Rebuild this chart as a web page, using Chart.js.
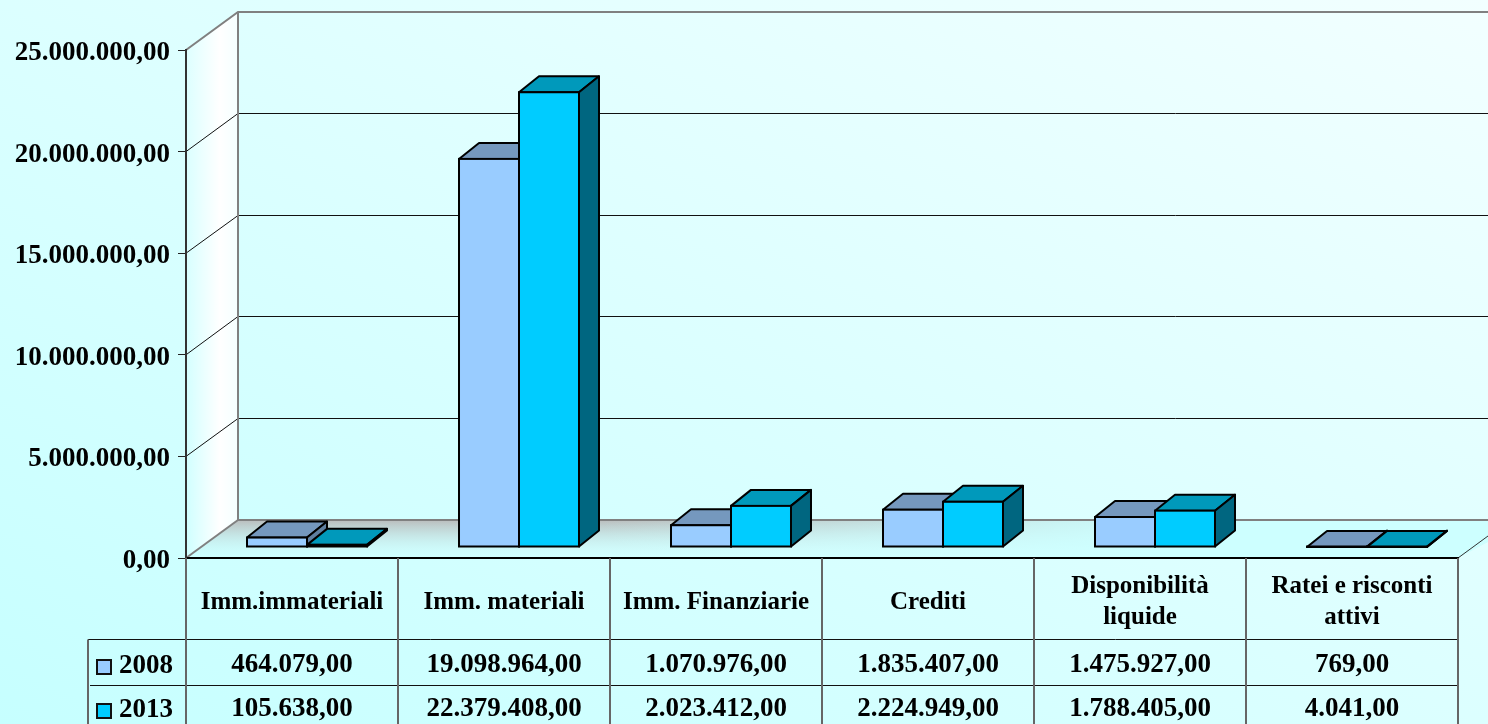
<!DOCTYPE html>
<html>
<head>
<meta charset="utf-8">
<style>html,body{margin:0;padding:0;background:#d8ffff;overflow:hidden}canvas{display:block}</style>
<script src="https://cdn.jsdelivr.net/npm/chart.js@4"></script>
</head>
<body>
<canvas id="c" width="1488" height="724"></canvas>
<script>
const categories = ['Imm.immateriali','Imm. materiali','Imm. Finanziarie','Crediti',['Disponibilità','liquide'],['Ratei e risconti','attivi']];
const labels2008 = '2008';
const labels2013 = '2013';
const values2008 = [464079,19098964,1070976,1835407,1475927,769];
const values2013 = [105638,22379408,2023412,2224949,1788405,4041];
const FONT = 'bold 27px "Liberation Serif"';

const fmt = v => {
  const s = Math.round(v).toString().replace(/\B(?=(\d{3})+(?!\d))/g,'.');
  return s + ',00';
};
// projection constants of the pseudo-3D frame
const WALL = {dx:52, dy:-38};
const BARPLANE = {dx:15, dy:-11};
const BARDEPTH = {dx:20, dy:-16};
const SHADE = [{top:'#7598BE',side:'#5F7FA0'},{top:'#0099BB',side:'#006680'}];

function line(ctx,pts,color,w){
  ctx.beginPath();
  pts.forEach((p,i)=> i?ctx.lineTo(p[0],p[1]):ctx.moveTo(p[0],p[1]));
  ctx.strokeStyle=color;ctx.lineWidth=w;ctx.stroke();
}
function poly(ctx,pts,fill,stroke,w){
  ctx.beginPath();
  pts.forEach((p,i)=> i?ctx.lineTo(p[0],p[1]):ctx.moveTo(p[0],p[1]));
  ctx.closePath();
  if(fill){ctx.fillStyle=fill;ctx.fill();}
  if(stroke){ctx.strokeStyle=stroke;ctx.lineWidth=w;ctx.lineJoin='round';ctx.stroke();}
}

const frame3d = {
  id:'frame3d',
  beforeDraw(chart){
    const {ctx,chartArea:a,scales:{y}} = chart, W=chart.width, H=chart.height;
    ctx.save();
    const bg = ctx.createLinearGradient(459,947,1029,-223);
    bg.addColorStop(0,'#C6FFFF');bg.addColorStop(1,'#F2FFFF');
    ctx.fillStyle=bg;ctx.fillRect(0,0,W,H);
    const bx=a.left+WALL.dx, by=a.bottom+WALL.dy, tx=bx, ty=a.top+WALL.dy;
    // side wall
    const sw=ctx.createLinearGradient(a.left,0,bx,0);
    sw.addColorStop(0,'rgba(255,255,255,0)');sw.addColorStop(.65,'#FFFFFF');sw.addColorStop(1,'#F4FFFF');
    poly(ctx,[[a.left,a.top],[tx,ty],[bx,by],[a.left,a.bottom]],sw);
    // floor
    ctx.save();
    poly(ctx,[[a.left,a.bottom],[bx,by],[W+40,by],[a.right,a.bottom]],null);
    ctx.clip();
    const fg=ctx.createLinearGradient(0,by,0,a.bottom);
    fg.addColorStop(0,'rgba(185,185,185,.95)');fg.addColorStop(1,'rgba(200,255,255,.1)');
    ctx.fillStyle=fg;ctx.fillRect(a.left,by,W,a.bottom-by);
    const fh=ctx.createLinearGradient(600,0,1180,0);
    fh.addColorStop(0,'rgba(205,255,255,0)');fh.addColorStop(1,'rgba(205,255,255,1)');
    ctx.fillStyle=fh;ctx.fillRect(a.left,by,W,a.bottom-by);
    ctx.restore();
    // gridlines on back and side walls
    y.ticks.forEach(t=>{
      const p=y.getPixelForValue(t.value);
      if(t.value>0 && t.value<y.max){
        const gy=Math.floor(p+WALL.dy)+.5;
        line(ctx,[[a.left,p],[a.left+WALL.dx,gy],[W,gy]],'#111',1);
      }
    });
    line(ctx,[[a.left,a.top],[tx,ty],[W,ty]],'#808080',2);
    line(ctx,[[tx,ty],[bx,by],[W,by]],'#808080',2);
    line(ctx,[[a.left,a.bottom],[bx,by]],'#808080',2);
    line(ctx,[[a.right,a.bottom],[a.right+30,a.bottom-22]],'#333',1);
    ctx.restore();
  },
  // the default back-to-front order would paint 2008 over 2013, so every
  // dataset is drawn left to right in afterDatasetsDraw instead
  beforeDatasetDraw(){ return false; },
  afterDatasetsDraw(chart){
    const {ctx,chartArea:a,scales:{x}} = chart, H=chart.height;
    const d=BARDEPTH;
    ctx.save();
    ctx.translate(BARPLANE.dx,BARPLANE.dy);
    chart.getSortedVisibleDatasetMetas().forEach(meta=>{
      const s=SHADE[meta.index];
      const rects=meta.data.map(b=>b.getProps(['x','y','base','width'],true));
      rects.forEach(p=>{
        const l=p.x-p.width/2, r=p.x+p.width/2;
        poly(ctx,[[l,p.y],[l+d.dx,p.y+d.dy],[r+d.dx,p.y+d.dy],[r,p.y]],s.top,'#000',2);
        poly(ctx,[[r,p.y],[r+d.dx,p.y+d.dy],[r+d.dx,p.base+d.dy],[r,p.base]],s.side,'#000',2);
      });
      meta.controller.draw();
      rects.forEach(p=>{
        ctx.strokeStyle='#000';ctx.lineWidth=2;ctx.lineJoin='miter';
        ctx.strokeRect(p.x-p.width/2,p.y,p.width,p.base-p.y);
      });
    });
    ctx.restore();
    // data table
    const half=(x.getPixelForValue(1)-x.getPixelForValue(0))/2;
    const r1=639.5,r2=685.5,lx=88;
    ctx.save();
    line(ctx,[[lx,r1],[a.right,r1]],'#111',1);
    line(ctx,[[lx+2,r2],[a.right,r2]],'#111',1);
    line(ctx,[[lx,r1],[lx,H]],'#666',2);
    for(let i=0;i<=categories.length;i++){
      const vx=Math.round(a.left+i*half*2);
      line(ctx,[[vx,a.bottom],[vx,H]],'#666',2);
    }
    ctx.font=FONT;ctx.fillStyle='#000';ctx.textBaseline='middle';
    chart.data.datasets.forEach((ds,k)=>{
      const cy=k?707:663;
      ds.data.forEach((v,i)=>{
        ctx.textAlign='center';ctx.fillStyle='#000';
        ctx.fillText(fmt(v),x.getPixelForValue(i),cy+2);
      });
      ctx.fillStyle=ds.backgroundColor;ctx.strokeStyle='#111';ctx.lineWidth=2;
      ctx.fillRect(97,cy-3,14,14);ctx.strokeRect(97,cy-3,14,14);
      ctx.fillStyle='#000';ctx.textAlign='left';
      ctx.fillText(ds.label,119,cy+3);
    });
    ctx.restore();
  }
};

new Chart(document.getElementById('c'),{
  type:'bar',
  data:{labels:categories,datasets:[
    {label:labels2008,data:values2008,backgroundColor:'#99CCFF',borderWidth:0,inflateAmount:0,clip:false,
     barPercentage:1,categoryPercentage:.566},
    {label:labels2013,data:values2013,backgroundColor:'#00CCFF',borderWidth:0,inflateAmount:0,clip:false,
     barPercentage:1,categoryPercentage:.566}
  ]},
  plugins:[frame3d],
  options:{
    responsive:false,animation:false,
    layout:{padding:{top:50,right:30,left:0,bottom:0}},
    plugins:{legend:{display:false},tooltip:{enabled:false},title:{display:false}},
    scales:{
      x:{
        afterFit(s){s.height=166;},
        grid:{display:false,drawTicks:false},
        border:{display:true,color:'#000',width:2},
        ticks:{color:'#000',font:{family:'Liberation Serif',weight:'bold',size:25,lineHeight:1.24},padding:29,maxRotation:0,minRotation:0,autoSkip:false,crossAlign:'center'}
      },
      y:{
        min:0,max:25000000,
        afterFit(s){s.width=186;},
        grid:{drawOnChartArea:false,drawTicks:true,tickLength:8,color:'#222'},
        border:{display:true,color:'#333',width:2},
        ticks:{stepSize:5000000,color:'#000',padding:8,labelOffset:3,font:{family:'Liberation Serif',weight:'bold',size:27},callback:v=>fmt(v)}
      }
    }
  }
});
</script>
</body>
</html>
